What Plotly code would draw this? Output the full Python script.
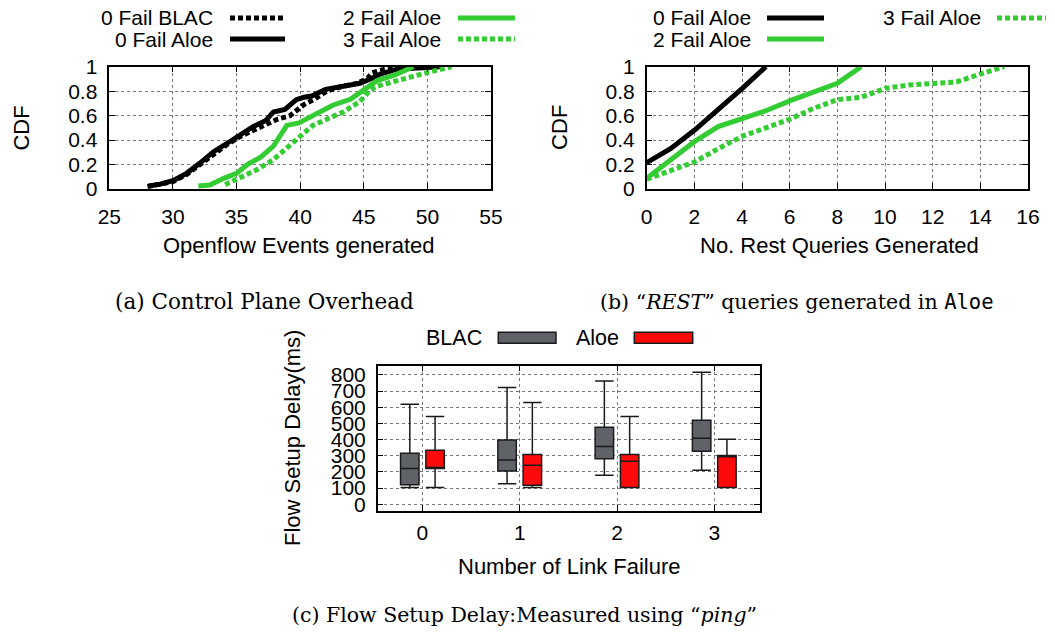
import plotly.graph_objects as go

### DATA

# (a) Openflow events generated - CDF
a_blac0_x = [28.0, 29.0, 30.0, 31.1, 32.1, 33.2, 34.2, 35.3, 36.3, 37.1, 38.2, 39.2, 40.3,
             41.1, 42.1, 43.2, 44.5, 45.3, 45.65, 46.6, 47.6]
a_blac0_y = [0.02, 0.035, 0.06, 0.12, 0.20, 0.29, 0.36, 0.43, 0.48, 0.51, 0.57, 0.60, 0.69,
             0.733, 0.80, 0.836, 0.864, 0.905, 0.95, 0.978, 1.0]
a_aloe0_x = [28.1, 29.0, 30.05, 31.1, 32.1, 33.2, 34.2, 35.3, 36.3, 37.3, 37.9, 38.8, 39.7,
             40.3, 40.9, 42.0, 43.2, 44.7, 45.65, 46.3, 47.6, 49.0, 51.0]
a_aloe0_y = [0.025, 0.04, 0.07, 0.13, 0.21, 0.305, 0.37, 0.44, 0.51, 0.56, 0.63, 0.65, 0.73,
             0.75, 0.76, 0.815, 0.84, 0.864, 0.905, 0.94, 0.98, 0.99, 1.0]
a_aloe2_x = [32.0, 32.9, 34.0, 35.0, 35.9, 36.9, 37.9, 38.95, 39.9, 41.1, 42.6, 43.95, 45.3,
             46.05, 47.4, 48.9]
a_aloe2_y = [0.025, 0.033, 0.087, 0.128, 0.204, 0.26, 0.35, 0.52, 0.54, 0.605, 0.687, 0.733,
             0.83, 0.886, 0.93, 1.0]
a_aloe3_x = [34.1, 35.3, 36.6, 37.9, 39.2, 40.0, 41.0, 42.3, 43.4, 44.7, 45.5, 46.0, 47.6,
             49.2, 50.7, 51.9]
a_aloe3_y = [0.035, 0.09, 0.158, 0.24, 0.35, 0.43, 0.52, 0.58, 0.63, 0.715, 0.81, 0.84, 0.88,
             0.93, 0.97, 1.0]

# (b) REST queries generated in Aloe - CDF
b_aloe0_x = [0, 1, 2, 3, 4, 5]
b_aloe0_y = [0.215, 0.33, 0.48, 0.645, 0.82, 1.0]
b_aloe2_x = [0, 1, 2, 3, 4, 5, 6, 7, 8, 9]
b_aloe2_y = [0.087, 0.235, 0.387, 0.51, 0.57, 0.64, 0.72, 0.79, 0.864, 1.0]
b_aloe3_x = [0, 1, 2, 3, 4, 5, 6, 7, 8, 9, 10, 11, 12, 13, 14, 15]
b_aloe3_y = [0.08, 0.155, 0.22, 0.33, 0.43, 0.50, 0.57, 0.66, 0.73, 0.75, 0.823, 0.85, 0.858,
             0.875, 0.94, 1.0]

# (c) Flow setup delay (ms) box stats
link_failures = [0, 1, 2, 3]
blac_low = [103, 126, 179, 210]
blac_q1 = [120, 206, 282, 328]
blac_med = [221, 274, 357, 408]
blac_q3 = [315, 398, 476, 520]
blac_high = [619, 722, 763, 816]
aloe_low = [103, 103, 103, 103]
aloe_q1 = [221, 118, 103, 103]
aloe_med = [221, 241, 266, 293]
aloe_q3 = [334, 307, 307, 301]
aloe_high = [542, 629, 542, 402]

### STYLE

# page body keeps an 8px margin, so the figure is shrunk and everything is
# laid out in window pixels shifted by that margin
PAGE, BODY = (1055, 637), 8
W, H = PAGE[0] - 2 * BODY, PAGE[1] - 2 * BODY
GREEN = "#33cc33"
DOTS = "5px,3px"
SANS = "Liberation Sans, Arial, sans-serif"
SERIF = "DejaVu Serif, serif"
MONO = "DejaVu Sans Mono, monospace"

line_styles = {
    "0 Fail BLAC": dict(color="black", dash=DOTS),
    "0 Fail Aloe": dict(color="black", dash="solid"),
    "2 Fail Aloe": dict(color=GREEN, dash="solid"),
    "3 Fail Aloe": dict(color=GREEN, dash=DOTS),
}
BLAC_FILL = "#5f6266"
ALOE_FILL = "#ff0a0a"


def px(x):
    return (x - BODY) / W


def py(y):
    return 1 - (y - BODY) / H


fig = go.Figure()

# Lines
series = [
    ("x", "y", "0 Fail BLAC", a_blac0_x, a_blac0_y),
    ("x", "y", "0 Fail Aloe", a_aloe0_x, a_aloe0_y),
    ("x", "y", "2 Fail Aloe", a_aloe2_x, a_aloe2_y),
    ("x", "y", "3 Fail Aloe", a_aloe3_x, a_aloe3_y),
    ("x2", "y2", "0 Fail Aloe", b_aloe0_x, b_aloe0_y),
    ("x2", "y2", "2 Fail Aloe", b_aloe2_x, b_aloe2_y),
    ("x2", "y2", "3 Fail Aloe", b_aloe3_x, b_aloe3_y),
]
for xa, ya, name, xs, ys in series:
    st = line_styles[name]
    fig.add_trace(
        go.Scatter(
            x=xs, y=ys, xaxis=xa, yaxis=ya, mode="lines", name=name,
            line=dict(color=st["color"], dash=st["dash"], width=5),
            showlegend=False,
        )
    )

# Boxes
for name, fill, lo, q1, med, q3, hi in [
    ("BLAC", BLAC_FILL, blac_low, blac_q1, blac_med, blac_q3, blac_high),
    ("Aloe", ALOE_FILL, aloe_low, aloe_q1, aloe_med, aloe_q3, aloe_high),
]:
    fig.add_trace(
        go.Box(
            x=link_failures, lowerfence=lo, q1=q1, median=med, q3=q3, upperfence=hi,
            name=name, xaxis="x3", yaxis="y3", fillcolor=fill,
            line=dict(color="#1a1a1a", width=1.5), whiskerwidth=1,
            boxpoints=False, showlegend=False,
        )
    )

axis_common = dict(
    showline=True, linecolor="black", linewidth=1.5, mirror="ticks",
    ticks="inside", ticklen=6, tickcolor="black", automargin=False,
    showgrid=True, gridcolor="#777", griddash="dot", gridwidth=1,
    zeroline=False, tickfont=dict(family=SANS, size=21, color="black"),
)
cdf_ticks = dict(tickvals=[0, 0.2, 0.4, 0.6, 0.8, 1], ticktext=["0", "0.2", "0.4", "0.6", "0.8", "1"])

fig.update_layout(
    width=W, height=H, margin=dict(l=0, r=0, t=0, b=0), autosize=False,
    paper_bgcolor="white", plot_bgcolor="white",
    boxmode="group", boxgap=0.48, boxgroupgap=0.27,
    xaxis=dict(axis_common, domain=[px(109.3), px(491)], anchor="y", range=[25, 55], dtick=5,
               ticklabelstandoff=8),
    yaxis=dict(axis_common, domain=[py(189), py(66.7)], anchor="x", range=[0, 1], **cdf_ticks,
               ticklabelstandoff=6),
    xaxis2=dict(axis_common, domain=[px(646.7), px(1028)], anchor="y2", range=[0, 16], dtick=2,
                ticklabelstandoff=8),
    yaxis2=dict(axis_common, domain=[py(189), py(66.7)], anchor="x2", range=[0, 1], **cdf_ticks,
                ticklabelstandoff=6),
    xaxis3=dict(axis_common, domain=[px(377.7), px(760)], anchor="y3", range=[-0.46, 3.47],
                tickvals=link_failures, ticklabelstandoff=2),
    yaxis3=dict(axis_common, domain=[py(510.7), py(365.7)], anchor="x3", range=[-40, 857],
                dtick=100, ticklabelstandoff=6),
)

# Axis titles and captions
texts = [
    (21.7, 127.9, "CDF", 22, SANS, -90),
    (560, 127.9, "CDF", 22, SANS, -90),
    (299, 246, "Openflow Events generated", 22, SANS, 0),
    (839, 246, "No. Rest Queries Generated", 22, SANS, 0),
    (292, 438, "Flow Setup Delay(ms)", 22, SANS, -90),
    (569, 566, "Number of Link Failure", 22, SANS, 0),
    (264, 301, "(a) Control Plane Overhead", 21.5, SERIF, 0),
    (797, 302, "(b) \u201c<i>REST</i>\u201d queries generated in "
               f"<span style=\"font-family:{MONO}\">Aloe</span>", 20.5, SERIF, 0),
    (524, 615, "(c) Flow Setup Delay:Measured using \u201c<i>ping</i>\u201d", 20.5, SERIF, 0),
]
for x, y, t, size, fam, ang in texts:
    fig.add_annotation(
        x=px(x), y=py(y), xref="paper", yref="paper", text=t, showarrow=False,
        textangle=ang, font=dict(family=fam, size=size, color="black"),
        xanchor="center", yanchor="middle",
    )

# Legends (gnuplot style: label then sample)
line_keys = [  # name, text right edge, sample x0, sample x1, row y (px)
    ("0 Fail BLAC", 215, 230, 285, 18),
    ("0 Fail Aloe", 215, 230, 285, 39),
    ("2 Fail Aloe", 443, 458, 515, 18),
    ("3 Fail Aloe", 443, 458, 515, 39),
    ("0 Fail Aloe", 753, 767, 824, 18),
    ("2 Fail Aloe", 753, 767, 824, 39),
    ("3 Fail Aloe", 983, 997, 1046, 18),
]
for name, tr, x0, x1, y in line_keys:
    st = line_styles[name]
    fig.add_annotation(
        x=px(tr), y=py(y), xref="paper", yref="paper", text=name, showarrow=False,
        xanchor="right", yanchor="middle", font=dict(family=SANS, size=21, color="black"),
    )
    fig.add_shape(
        type="line", xref="paper", yref="paper", x0=px(x0), x1=px(x1), y0=py(y), y1=py(y),
        line=dict(color=st["color"], dash=st["dash"], width=5),
    )

box_keys = [  # name, fill, text right edge, box x0, box x1
    ("BLAC", BLAC_FILL, 484, 498.3, 556),
    ("Aloe", ALOE_FILL, 621, 634.3, 692.7),
]
for name, fill, tr, x0, x1 in box_keys:
    fig.add_annotation(
        x=px(tr), y=py(338.3), xref="paper", yref="paper", text=name, showarrow=False,
        xanchor="right", yanchor="middle", font=dict(family=SANS, size=21.5, color="black"),
    )
    fig.add_shape(
        type="rect", xref="paper", yref="paper", x0=px(x0), x1=px(x1),
        y0=py(343.3), y1=py(332.3), fillcolor=fill, line=dict(color="#1a1a1a", width=1.5),
    )

fig.write_html("out.html")
